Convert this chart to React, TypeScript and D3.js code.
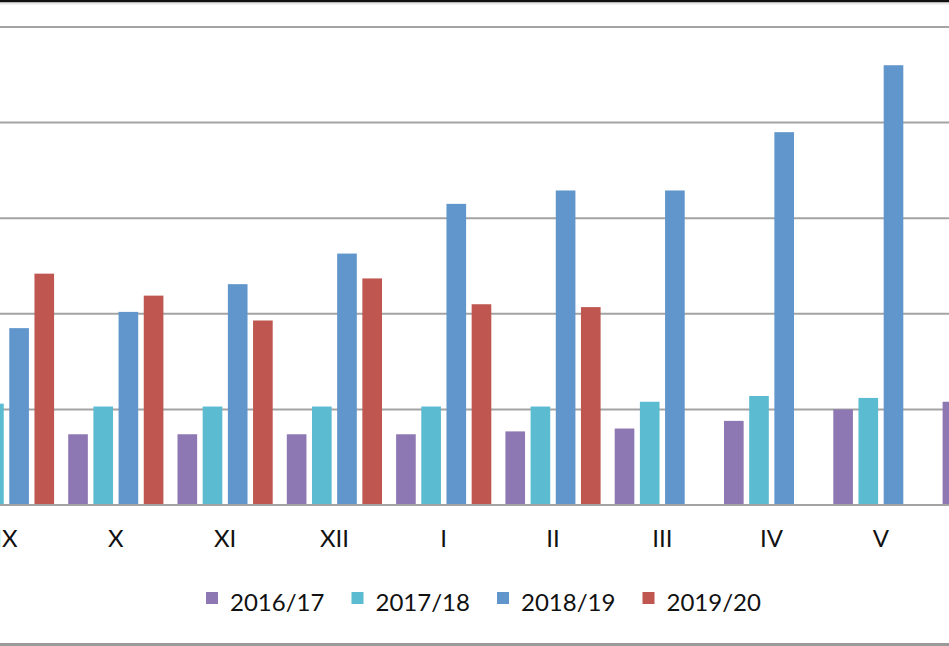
import React, { useEffect, useRef } from 'react';
import * as d3 from 'd3';

// months of the season, IX .. VI (first and last groups are partly cut off)
const months = ['IX', 'X', 'XI', 'XII', 'I', 'II', 'III', 'IV', 'V', 'VI'];
const seasons = ['2016/17', '2017/18', '2018/19', '2019/20'];

// values in gridline units (no axis labels are visible)
const s1617 = [null, 0.74, 0.74, 0.74, 0.74, 0.77, 0.8, 0.88, 1.0, 1.08];
const s1718 = [1.06, 1.03, 1.03, 1.03, 1.03, 1.03, 1.08, 1.14, 1.12, null];
const s1819 = [1.85, 2.02, 2.31, 2.63, 3.15, 3.29, 3.29, 3.9, 4.6, null];
const s1920 = [2.42, 2.19, 1.93, 2.37, 2.1, 2.07, null, null, null, null];
const gridTicks = [0, 1, 2, 3, 4, 5];

const colors = ['#8e78b3', '#5bbbd0', '#6096cb', '#bf5650'];

const W = 949;
const H = 646;

const App = () => {
  const ref = useRef<SVGSVGElement | null>(null);

  useEffect(() => {
    const svg = d3.select(ref.current);
    svg.selectAll('*').remove();

    const series = [s1617, s1718, s1819, s1920];
    const step = 109.3;
    const firstCenter = 6.5;

    const x = d3.scaleBand()
      .domain(months)
      .range([firstCenter - step / 2, firstCenter - step / 2 + step * months.length])
      .paddingInner(0)
      .paddingOuter(0);
    const xs = d3.scaleBand()
      .domain(seasons)
      .range([0, x.bandwidth()])
      .paddingInner(0.22)
      .paddingOuter(0.28);
    const y = d3.scaleLinear().domain([0, 5]).range([505, 27]);

    svg.append('rect').attr('width', W).attr('height', H).attr('fill', '#fff');

    // frame lines
    svg.append('rect').attr('x', 0).attr('y', 0).attr('width', W).attr('height', 2.5).attr('fill', '#111');
    svg.append('rect').attr('x', 0).attr('y', 2.5).attr('width', W).attr('height', 2).attr('fill', '#e6e6e6');
    svg.append('rect').attr('x', 0).attr('y', 643).attr('width', W).attr('height', 3).attr('fill', '#9a9a9a');

    // gridlines
    svg.append('g')
      .selectAll('line')
      .data(gridTicks)
      .enter()
      .append('line')
      .attr('x1', 0)
      .attr('x2', W)
      .attr('y1', (d) => y(d))
      .attr('y2', (d) => y(d))
      .attr('stroke', '#a3a3a3')
      .attr('stroke-width', 2);

    // bars
    series.forEach((vals, si) => {
      svg.append('g')
        .selectAll('rect')
        .data(months.map((m, i) => ({ m, v: vals[i] })).filter((d) => d.v != null))
        .enter()
        .append('rect')
        .attr('x', (d) => (x(d.m) as number) + (xs(seasons[si]) as number))
        .attr('y', (d) => y(d.v as number))
        .attr('width', xs.bandwidth())
        .attr('height', (d) => y(0) - y(d.v as number) - 1)
        .attr('fill', colors[si]);
    });

    // month labels
    svg.append('g')
      .selectAll('text')
      .data(months)
      .enter()
      .append('text')
      .attr('x', (d) => (x(d) as number) + x.bandwidth() / 2)
      .attr('y', 547)
      .attr('text-anchor', 'middle')
      .style('font-family', 'Lato, sans-serif')
      .style('font-size', '24px')
      .style('fill', '#111')
      .text((d) => d);

    // legend
    const legend = svg.append('g');
    seasons.forEach((s, i) => {
      const lx = 206 + i * 145.5;
      legend.append('rect')
        .attr('x', lx)
        .attr('y', 592)
        .attr('width', 12)
        .attr('height', 12)
        .attr('fill', colors[i]);
      legend.append('text')
        .attr('x', lx + 24)
        .attr('y', 611)
        .style('font-family', 'Lato, sans-serif')
        .style('font-size', '24px')
        .style('fill', '#111')
        .text(s);
    });
  }, []);

  return (
    <svg
      ref={ref}
      width={W}
      height={H}
      style={{ position: 'absolute', left: 0, top: 0, display: 'block' }}
    />
  );
};

export default App;
